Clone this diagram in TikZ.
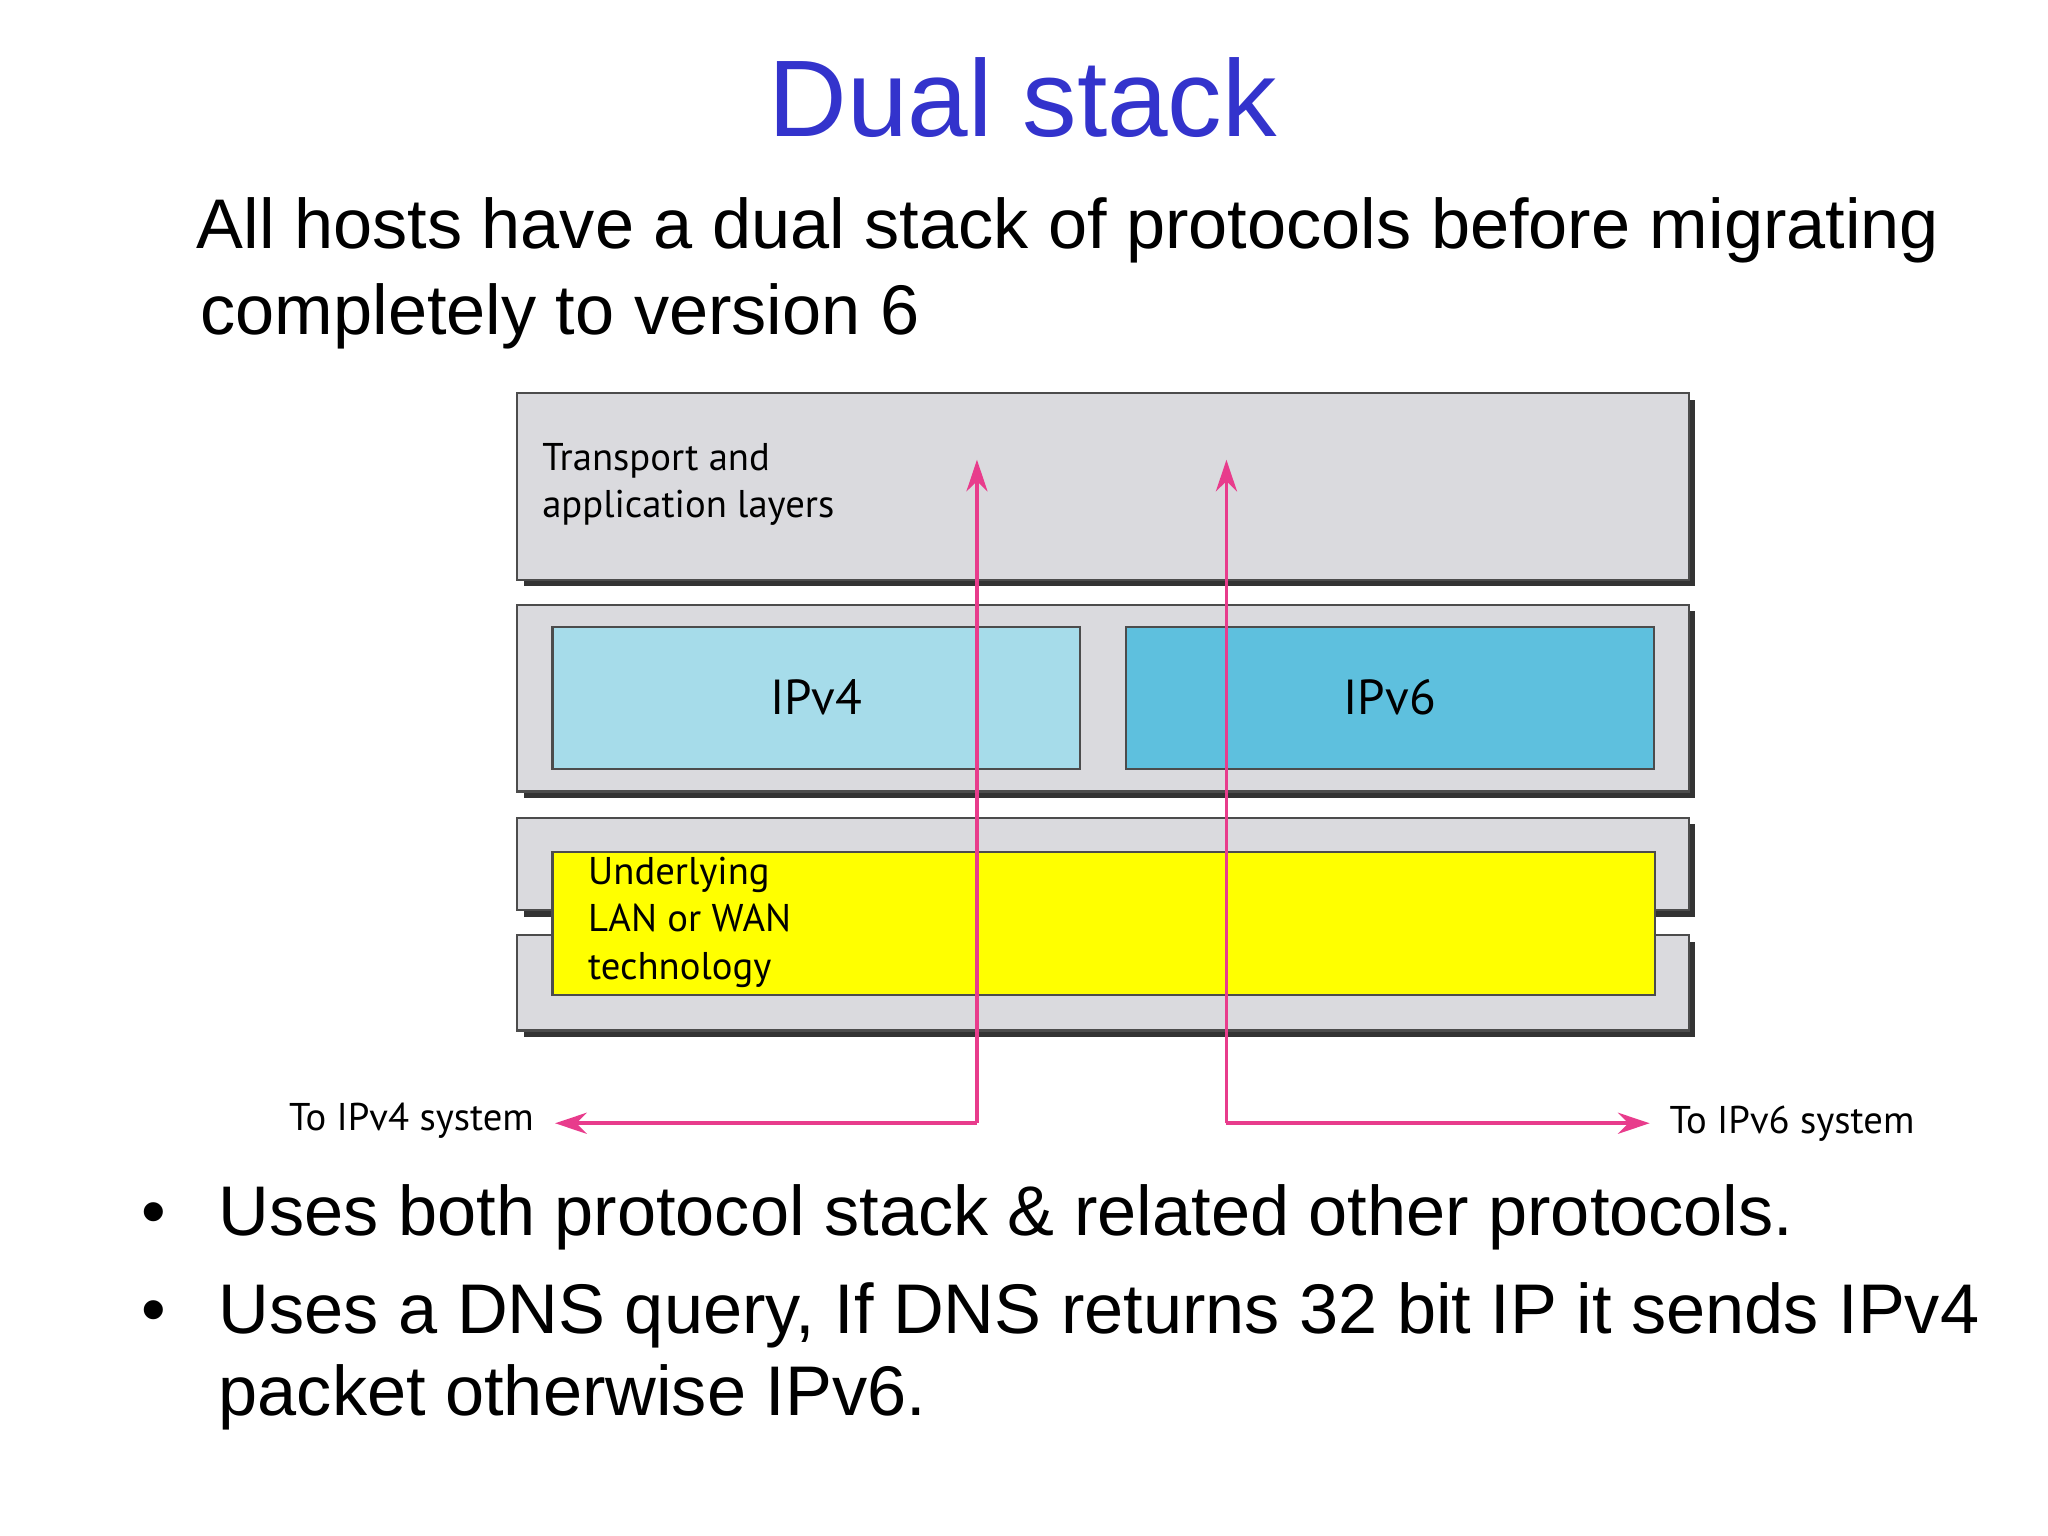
\documentclass[tikz,border=0pt]{standalone}
\usepackage{fontspec}
\setmainfont{Liberation Sans}
\newfontfamily\fig{PT Sans}
\usetikzlibrary{arrows.meta}
\definecolor{ttl}{RGB}{51,51,204}
\definecolor{boxg}{RGB}{218,218,222}
\definecolor{ipa}{RGB}{166,220,234}
\definecolor{ipb}{RGB}{94,192,222}
\definecolor{yel}{RGB}{255,255,0}
\definecolor{pk}{RGB}{232,60,140}
\begin{document}
\begin{tikzpicture}[x=0.01306cm,y=-0.01306cm,
  layer/.style={draw=black!70,fill=boxg,line width=0.6pt},
  shadow/.style={fill=black!80},
  inner/.style={draw=black!70,line width=0.6pt},
  lbl/.style={font=\fig\fontsize{11}{13.5}\selectfont,align=left},
  big/.style={font=\fontsize{20}{24}\selectfont,anchor=base west,inner sep=0},
  con/.style={draw=pk,line width=1.1pt,-{Stealth[length=9pt,width=6pt]}}]
\useasboundingbox (0,0) rectangle (1568,1176);
\node[font=\fontsize{31}{36}\selectfont,text=ttl] (title) at (783,75) {Dual stack};
\node[big] (p1) at (150,190) {All hosts have a dual stack of protocols before migrating};
\node[big] (p2) at (153,256) {completely to version 6};
% layer 1
\fill[shadow] (401,306) rectangle (1298,449);
\draw[layer] (396,301) rectangle (1293,444);
\node[lbl] (tal) at (527,371) {Transport and\\application layers};
% layer 2
\fill[shadow] (401,468) rectangle (1298,611);
\draw[layer] (396,463) rectangle (1293,606);
\draw[inner,fill=ipa] (423,480) rectangle (827,589);
\draw[inner,fill=ipb] (862,480) rectangle (1266,589);
\node[font=\fig\fontsize{14}{16}\selectfont] (v4) at (625,534) {IPv4};
\node[font=\fig\fontsize{14}{16}\selectfont] (v6) at (1064,534) {IPv6};
% layer 3
\fill[shadow] (401,631) rectangle (1298,702);
\draw[layer] (396,626) rectangle (1293,697);
\fill[shadow] (401,721) rectangle (1298,794);
\draw[layer] (396,716) rectangle (1293,789);
\draw[inner,fill=yel] (423,652) rectangle (1267,762);
\node[lbl] (ul) at (528,706) {Underlying\\LAN or WAN\\technology};
% arrows
\coordinate (a1) at (748,860); \coordinate (a1t) at (748,352); \coordinate (a1l) at (425,860);
\coordinate (a2) at (939,860); \coordinate (a2t) at (939,352); \coordinate (a2r) at (1263,860);
\draw[con] (a1) -- (a1t);
\draw[con] (a1) -- (a1l);
\draw[con] (a2) -- (a2t);
\draw[con] (a2) -- (a2r);
\node[lbl] (t4) at (315,858) {To IPv4 system};
\node[lbl] (t6) at (1372,860) {To IPv6 system};
% bullets
\node[big] (b1) at (108,946) {•};
\node[big] (l1) at (167,946) {Uses both protocol stack \& related other protocols.};
\node[big] (b2) at (108,1021) {•};
\node[big] (l2) at (167,1021) {Uses a DNS query, If DNS returns 32 bit IP it sends IPv4};
\node[big] (l3) at (167,1084) {packet otherwise IPv6.};
\end{tikzpicture}
\end{document}
